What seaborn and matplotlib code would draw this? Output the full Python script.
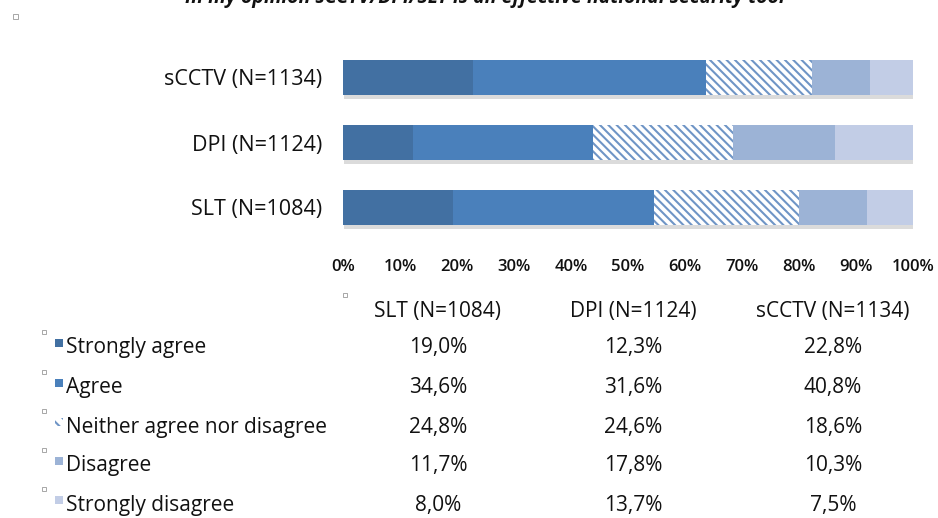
import numpy as np
import pandas as pd
import matplotlib
matplotlib.use("Agg")
import matplotlib.pyplot as plt
import matplotlib.patheffects as pe
from matplotlib.patches import Rectangle
import seaborn as sns

# ---------------- data ----------------
techs = ["SLT (N=1084)", "DPI (N=1124)", "sCCTV (N=1134)"]
responses = ["Strongly agree", "Agree", "Neither agree nor disagree",
             "Disagree", "Strongly disagree"]
slt = [19.0, 34.6, 24.8, 11.7, 8.0]
dpi = [12.3, 31.6, 24.6, 17.8, 13.7]
scctv = [22.8, 40.8, 18.6, 10.3, 7.5]
x_ticks = [0, 10, 20, 30, 40, 50, 60, 70, 80, 90, 100]
title = "In my opinion sCCTV/DPI/SLT is an effective national security tool"

colors = ["#4270a2", "#4a80bb", "#ffffff", "#9cb3d6", "#c2cde6"]
hatch_color = "#6f95c6"

sns.set_theme(style="white")
plt.rcParams["font.family"] = ["Open Sans", "DejaVu Sans"]
plt.rcParams["hatch.linewidth"] = 1.5

values = {techs[0]: slt, techs[1]: dpi, techs[2]: scctv}
rows = []
for t in techs:
    v = np.array(values[t], dtype=float)
    share = v / v.sum() * 100
    cum = np.cumsum(share)
    for r, c in zip(responses, cum):
        rows.append({"tech": t, "response": r, "cum": c})
df = pd.DataFrame(rows)

order = ["sCCTV (N=1134)", "DPI (N=1124)", "SLT (N=1084)"]

W, H = 938, 518
fig = plt.figure(figsize=(W / 100, H / 100), dpi=100)
ax = fig.add_axes([343 / W, 1 - 240 / H, (913 - 343) / W, 195 / H])

for i in range(len(responses) - 1, -1, -1):
    r = responses[i]
    sub = df[df["response"] == r]
    kw = dict(data=sub, x="cum", y="tech", order=order, orient="h",
              color=colors[i], width=0.55, ax=ax, saturation=1,
              errorbar=None, linewidth=0)
    if r.startswith("Neither"):
        kw.update(hatch="\\\\\\\\", edgecolor=hatch_color)
    sns.barplot(**kw)
    if i == len(responses) - 1:
        for p in ax.patches:
            p.set_path_effects([pe.SimplePatchShadow(offset=(1.0, -2.5),
                                                     shadow_rgbFace="#888888",
                                                     alpha=0.3),
                                pe.Normal()])

ax.set_xlim(0, 100)
ax.set_ylim(2.5, -0.5)
ax.set_xticks(x_ticks)
ax.set_xticklabels([f"{t}%" for t in x_ticks], fontsize=12,
                   fontweight="semibold", color="#111111")
ax.set_xlabel("")
ax.set_ylabel("")
ax.tick_params(axis="x", length=0, pad=14)
ax.tick_params(axis="y", length=0, pad=15, labelsize=15.5, labelcolor="#111111")
for s in ax.spines.values():
    s.set_visible(False)

# overlay in pixel space for table / title
ov = fig.add_axes([0, 0, 1, 1])
ov.set_xlim(0, W)
ov.set_ylim(H, 0)
ov.axis("off")
ov.patch.set_alpha(0)

ov.text(485, 3, title, ha="center", va="baseline", fontsize=14,
        fontweight="bold", style="italic", color="#111111")

col_x = [438, 633, 833]
row_y = [348, 388, 427, 466, 505]
header_y = 312
fs = 15
for cx, t in zip(col_x, techs):
    ov.text(cx, header_y, t, ha="center", va="center", fontsize=fs, color="#111111")
for j, r in enumerate(responses):
    y = row_y[j]
    ov.text(66, y, r, ha="left", va="center", fontsize=fs, color="#111111")
    fc = colors[j] if j != 2 else "white"
    ov.add_patch(Rectangle((55, y - 9), 8, 8, facecolor=fc,
                           edgecolor=hatch_color if j == 2 else "none",
                           linewidth=0, hatch="\\\\\\" if j == 2 else None))
    ov.add_patch(Rectangle((42, y - 18), 4, 4, facecolor="none",
                           edgecolor="#999999", linewidth=0.6))
    for cx, t in zip(col_x, techs):
        v = values[t][j]
        ov.text(cx, y, f"{v:.1f}".replace(".", ",") + "%", ha="center",
                va="center", fontsize=fs, color="#111111")

ov.add_patch(Rectangle((343, 293), 4, 4, facecolor="none", edgecolor="#999999", linewidth=0.6))
ov.add_patch(Rectangle((13, 14), 5, 5, facecolor="none", edgecolor="#999999", linewidth=0.6))

fig.savefig("out.png", dpi=100)
